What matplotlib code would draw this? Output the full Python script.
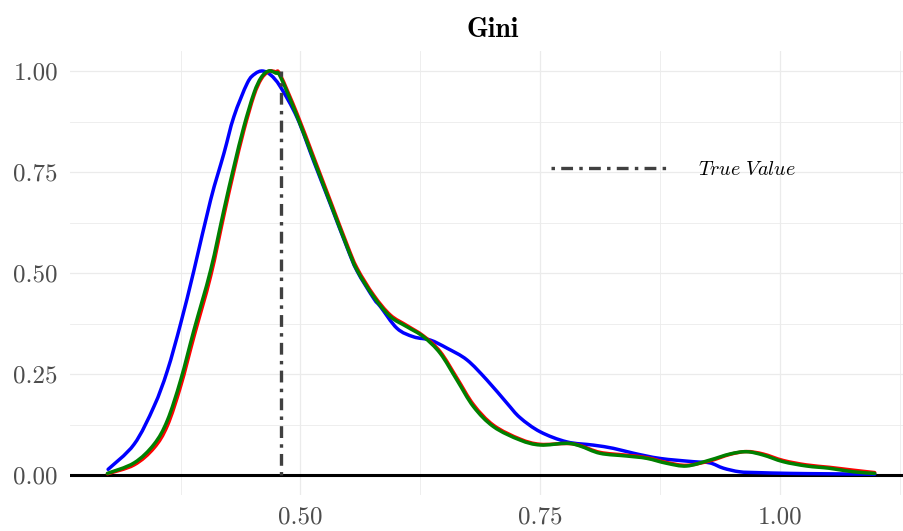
import matplotlib
matplotlib.use("Agg")
import matplotlib.pyplot as plt
import numpy as np
from matplotlib.path import Path
from matplotlib.patches import PathPatch

plt.rcParams["font.family"] = "cmr10"
plt.rcParams["mathtext.fontset"] = "cm"
plt.rcParams["axes.formatter.use_mathtext"] = True
plt.rcParams["lines.scale_dashes"] = False

# Density estimates of the Gini coefficient (scaled so each peak is 1)
blue_x = [0.2993, 0.3264, 0.3472, 0.3611, 0.375, 0.3889, 0.40625, 0.4201, 0.4305,
          0.4445, 0.4525, 0.4604, 0.469, 0.479, 0.4966, 0.5139, 0.53125, 0.5486,
          0.559, 0.5764, 0.5833, 0.6007, 0.618, 0.6354, 0.6528, 0.6736, 0.6945,
          0.7153, 0.729, 0.75, 0.7778, 0.8055, 0.8264, 0.8472, 0.875, 0.9097,
          0.927, 0.941, 0.958, 0.9757, 1.0104, 1.05, 1.099]
blue_y = [0.014, 0.076, 0.170, 0.258, 0.375, 0.507, 0.681, 0.796, 0.887,
          0.970, 0.993, 1.000, 0.990, 0.961, 0.884, 0.776, 0.670, 0.563,
          0.505, 0.437, 0.417, 0.363, 0.342, 0.334, 0.314, 0.285, 0.235,
          0.178, 0.142, 0.107, 0.082, 0.074, 0.066, 0.054, 0.041, 0.033,
          0.030, 0.017, 0.008, 0.006, 0.004, 0.003, 0.002]

gr_x = [0.2986, 0.3264, 0.3472, 0.3611, 0.375, 0.3889, 0.40625, 0.4201, 0.4305,
        0.4409, 0.4514, 0.459, 0.4667, 0.474, 0.479, 0.4966, 0.5139, 0.53125,
        0.5486, 0.559, 0.5764, 0.59375, 0.611, 0.6284, 0.6458, 0.6632, 0.6805,
        0.7014, 0.729, 0.75, 0.7778, 0.7917, 0.8125, 0.8403, 0.8611, 0.882,
        0.9028, 0.927, 0.9479, 0.9653, 0.9826, 1.0035, 1.0278, 1.052, 1.0764, 1.099]
green_y = [0.004, 0.030, 0.076, 0.135, 0.235, 0.359, 0.507, 0.656, 0.763,
           0.862, 0.945, 0.984, 1.000, 0.995, 0.986, 0.887, 0.780, 0.6725,
           0.565, 0.507, 0.441, 0.392, 0.367, 0.342, 0.301, 0.235, 0.169,
           0.1195, 0.0866, 0.0743, 0.0785, 0.0718, 0.0537, 0.047, 0.0413, 0.029,
           0.0223, 0.037, 0.052, 0.0577, 0.0495, 0.033, 0.0223, 0.0166, 0.008, 0.004]
red_y = [0.003, 0.025, 0.067, 0.122, 0.220, 0.343, 0.492, 0.643, 0.752,
         0.853, 0.939, 0.980, 0.999, 0.998, 0.990, 0.893, 0.786, 0.678,
         0.570, 0.512, 0.445, 0.396, 0.370, 0.344, 0.305, 0.240, 0.174,
         0.123, 0.089, 0.076, 0.078, 0.073, 0.056, 0.049, 0.043, 0.031,
         0.024, 0.035, 0.051, 0.058, 0.052, 0.036, 0.025, 0.019, 0.012, 0.006]

true_value = 0.48

x_ticks = [0.50, 0.75, 1.00]
x_labels = ["0.50", "0.75", "1.00"]
x_minor = [0.375, 0.625, 0.875, 1.125]
y_ticks = [0.00, 0.25, 0.50, 0.75, 1.00]
y_labels = ["0.00", "0.25", "0.50", "0.75", "1.00"]
y_minor = [0.125, 0.375, 0.625, 0.875]


def smooth_line(ax, xs, ys, color, lw, zorder):
    """Draw a curve through every (x, y) knot using Catmull-Rom Bezier segments."""
    p = np.column_stack([xs, ys]).astype(float)
    n = len(p)
    verts = [tuple(p[0])]
    codes = [Path.MOVETO]
    for i in range(n - 1):
        p0 = p[max(i - 1, 0)]
        p1 = p[i]
        p2 = p[i + 1]
        p3 = p[min(i + 2, n - 1)]
        c1 = p1 + (p2 - p0) / 6.0
        c2 = p2 - (p3 - p1) / 6.0
        verts += [tuple(c1), tuple(c2), tuple(p2)]
        codes += [Path.CURVE4] * 3
    patch = PathPatch(Path(verts, codes), fill=False, edgecolor=color,
                      linewidth=lw, capstyle="round", joinstyle="round",
                      zorder=zorder)
    ax.add_patch(patch)


fig = plt.figure(figsize=(9.04, 5.31), dpi=100)
ax = fig.add_axes([0.0779, 0.0674, 0.9332, 0.8369])

grid_col = "#EBEBEB"
ax.set_xticks(x_ticks)
ax.set_xticklabels(x_labels)
ax.set_xticks(x_minor, minor=True)
ax.set_yticks(y_ticks)
ax.set_yticklabels(y_labels)
ax.set_yticks(y_minor, minor=True)
ax.grid(True, which="major", color=grid_col, linewidth=0.9)
ax.grid(True, which="minor", color=grid_col, linewidth=0.6)
ax.set_axisbelow(True)
ax.tick_params(which="both", length=0, labelsize=18, labelcolor="#4D4D4D")
ax.tick_params(axis="y", pad=9)
ax.tick_params(axis="x", pad=8)
for s in ax.spines.values():
    s.set_visible(False)

ax.axhline(0, color="black", linewidth=2.2, zorder=2)

lw = 2.5
smooth_line(ax, blue_x, blue_y, "#0000FF", lw, 3)
smooth_line(ax, gr_x, red_y, "#FF0000", lw, 3)
smooth_line(ax, gr_x, green_y, "#008000", lw, 4)

ax.plot([true_value, true_value], [0, max(green_y)], color="#404040",
        linewidth=2.4, dashes=(2.5, 4.5, 8.5, 4.5), dash_capstyle="butt",
        label=r"$True\ Value$", zorder=5)

ax.set_xlim(0.26, 1.14)
ax.set_ylim(-0.05, 1.05)

ax.set_title("Gini", family="cmb10", fontsize=20, pad=10)

ax.legend(loc="center left", bbox_to_anchor=(0.5699, 0.7318), frameon=False,
          fontsize=14.5, handlelength=5.7, handletextpad=1.6, borderpad=0,
          borderaxespad=0)

fig.savefig("out.png", dpi=100)
